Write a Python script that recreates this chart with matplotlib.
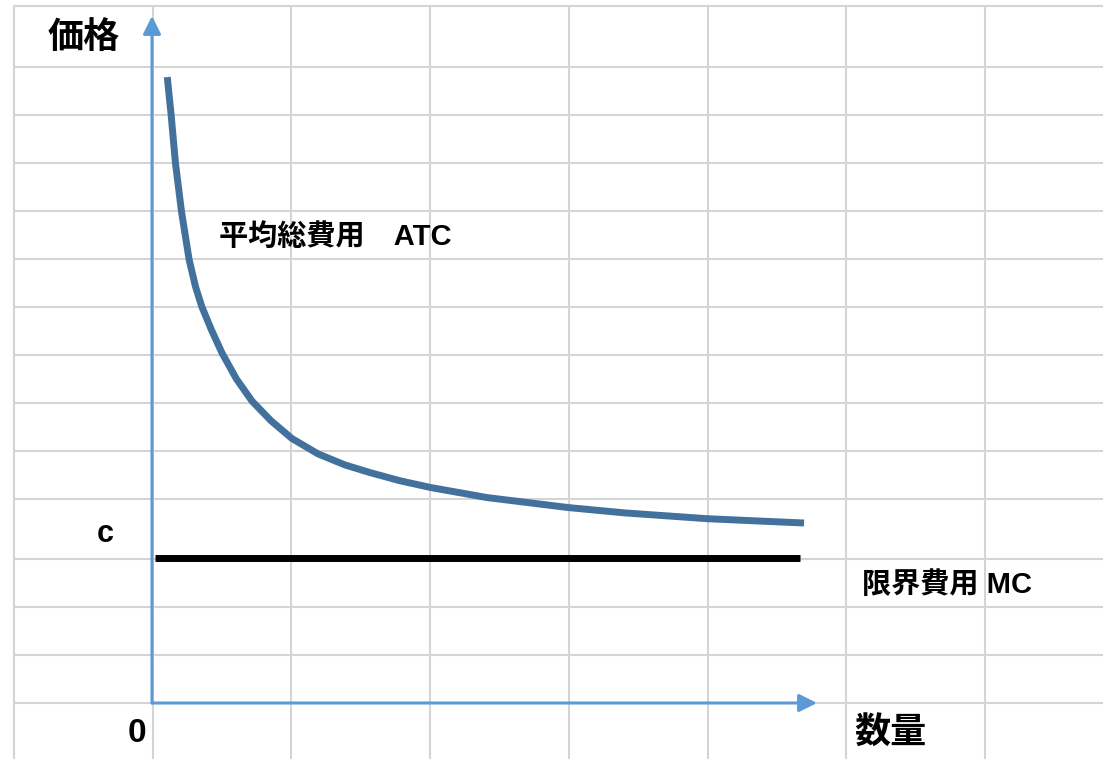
import matplotlib
matplotlib.use("Agg")
import matplotlib.pyplot as plt

# Average total cost curve (quantity, price)
atc_quantity = [0.110, 0.138, 0.169, 0.213, 0.268, 0.314, 0.360, 0.429, 0.505,
                0.609, 0.721, 0.858, 1.009, 1.197, 1.391, 1.572, 1.788, 2.008,
                2.415, 3.006, 3.410, 4.001, 4.384, 4.701]
atc_price = [13.04, 12.25, 11.25, 10.23, 9.23, 8.67, 8.25, 7.77, 7.29,
             6.75, 6.29, 5.88, 5.51, 5.19, 4.96, 4.80, 4.63, 4.49,
             4.28, 4.07, 3.96, 3.84, 3.79, 3.75]

# Marginal cost: constant at c
mc_quantity = [0.02, 4.67]
mc_price = [3.03, 3.03]

labels = {
    "price": "価格",
    "quantity": "数量",
    "origin": "0",
    "c": "c",
    "atc": "平均総費用　ATC",
    "mc": "限界費用 MC",
}

W, H, DPI = 1103, 759, 100
fig = plt.figure(figsize=(W / DPI, H / DPI), dpi=DPI)
fig.patch.set_facecolor("white")

# Spreadsheet-style cell grid drawn in pixel space
bg = fig.add_axes([0, 0, 1, 1])
bg.set_xlim(0, W)
bg.set_ylim(H, 0)
bg.axis("off")
grid_color = "#d4d4d4"
col_left, col_width = 14, 138.7
row_edges = [6, 67, 115, 163, 211, 259, 307, 355, 403, 451, 499, 559, 607, 655, 703]
x = col_left
while x < W:
    bg.plot([x, x], [6, H], color=grid_color, lw=1.5, zorder=0)
    x += col_width
for y in row_edges:
    bg.plot([col_left, W], [y, y], color=grid_color, lw=1.5, zorder=0)

# Chart axes: origin at pixel (152, 703); one column = 1 unit of quantity,
# one row (48 px) = 1 unit of price
ox, oy, xu, yu = 152, 703, 138.7, 48.0
ax = fig.add_axes([0, 0, 1, 1])
ax.set_xlim(-ox / xu, (W - ox) / xu)
ax.set_ylim(-(H - oy) / yu, oy / yu)
ax.patch.set_alpha(0)
ax.axis("off")

axis_blue = "#5b9bd5"
arrow = dict(arrowstyle="-|>,head_length=0.4,head_width=0.2", mutation_scale=27,
             color=axis_blue, lw=2.2, shrinkA=0, shrinkB=0)
ax.annotate("", xy=(0, (oy - 16) / yu), xytext=(0, 0), arrowprops=arrow, zorder=3)
ax.annotate("", xy=((817 - ox) / xu, 0), xytext=(0, 0), arrowprops=arrow, zorder=3)

ax.plot(atc_quantity, atc_price, color="#41719c", lw=5, solid_capstyle="butt",
        solid_joinstyle="round", zorder=4)
ax.plot(mc_quantity, mc_price, color="black", lw=5, solid_capstyle="butt", zorder=4)

fam = ["Liberation Sans", "Noto Sans CJK JP"]

def px_text(px, py, s, size, ha="center"):
    ax.text((px - ox) / xu, (oy - py) / yu, s, fontsize=size, fontweight="bold",
            family=fam, ha=ha, va="center", color="black", zorder=5)

px_text(84, 38, labels["price"], 26)
px_text(890, 733, labels["quantity"], 26)
px_text(137, 733, labels["origin"], 24)
px_text(105, 534, labels["c"], 22)
px_text(219, 237, labels["atc"], 21, ha="left")
px_text(862, 585, labels["mc"], 21, ha="left")

fig.savefig("out.png", dpi=DPI, facecolor="white")
